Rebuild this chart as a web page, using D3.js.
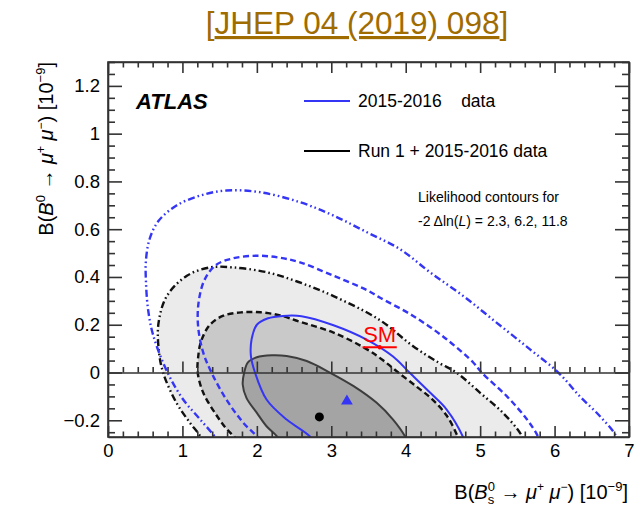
<!DOCTYPE html>
<html>
<head>
<meta charset="utf-8">
<script src="https://cdn.jsdelivr.net/npm/d3@7"></script>
<style>
  body { margin: 0; background: #fff; }
  text { font-family: "Liberation Sans", Arial, Helvetica, sans-serif; }
</style>
</head>
<body>
<svg id="chart" width="638" height="507"></svg>
<script>
// ---- data -----------------------------------------------------------
const xTicks = [0, 1, 2, 3, 4, 5, 6, 7];
const xTickLabels = ["0", "1", "2", "3", "4", "5", "6", "7"];
const yTicks = [-0.2, 0, 0.2, 0.4, 0.6, 0.8, 1.0, 1.2];
const yTickLabels = ["\u22120.2", "0", "0.2", "0.4", "0.6", "0.8", "1", "1.2"];

// Run 1 + 2015-2016 likelihood contours (Bs, Bd) in units of 1e-9
const comb_2p3 = [[2.36,-0.31],[2.27,-0.267],[2.13,-0.225],[2.0,-0.169],[1.86,-0.106],[1.81,-0.05],[1.83,0.0],[1.88,0.042],[2.0,0.064],[2.2,0.072],[2.4,0.069],[2.67,0.048],[2.98,0.0],[3.3,-0.057],[3.61,-0.127],[3.83,-0.197],[3.99,-0.267],[4.05,-0.31]];
const comb_6p2 = [[1.82,-0.32],[1.73,-0.28],[1.59,-0.235],[1.46,-0.18],[1.28,-0.085],[1.205,0.0],[1.21,0.06],[1.25,0.13],[1.37,0.20],[1.55,0.238],[1.8,0.252],[2.05,0.252],[2.3,0.240],[2.58,0.212],[3.03,0.167],[3.48,0.097],[3.7,0.05],[3.9,0.0],[4.15,-0.06],[4.35,-0.11],[4.55,-0.18],[4.7,-0.27],[4.75,-0.32]];
const comb_11p8 = [[1.32,-0.32],[1.24,-0.267],[1.10,-0.21],[0.92,-0.127],[0.74,0.0],[0.68,0.10],[0.68,0.21],[0.79,0.32],[1.06,0.405],[1.37,0.44],[1.68,0.44],[2.13,0.42],[2.55,0.38],[3.03,0.32],[3.65,0.22],[4.10,0.11],[4.45,0.04],[4.68,0.0],[5.0,-0.085],[5.31,-0.17],[5.55,-0.26],[5.62,-0.32]];

// 2015-2016 only likelihood contours
const run2_2p3 = [[2.82,-0.32],[2.71,-0.267],[2.40,-0.197],[2.13,-0.113],[1.975,0.0],[1.92,0.07],[1.93,0.14],[2.0,0.20],[2.15,0.227],[2.35,0.237],[2.6,0.236],[3.03,0.198],[3.48,0.137],[3.83,0.067],[4.05,0.0],[4.33,-0.085],[4.55,-0.155],[4.77,-0.27],[4.82,-0.32]];
const run2_6p2 = [[2.12,-0.32],[2.04,-0.28],[1.82,-0.211],[1.59,-0.113],[1.39,0.0],[1.28,0.083],[1.21,0.195],[1.22,0.30],[1.30,0.39],[1.45,0.45],[1.68,0.478],[2.0,0.489],[2.3,0.481],[2.58,0.461],[3.03,0.405],[3.48,0.345],[3.65,0.314],[4.10,0.237],[4.55,0.139],[4.91,0.041],[5.02,0.0],[5.36,-0.1],[5.63,-0.197],[5.78,-0.27],[5.83,-0.32]];
const run2_11p8 = [[1.52,-0.32],[1.46,-0.28],[1.24,-0.197],[1.01,-0.113],[0.80,0.0],[0.61,0.153],[0.54,0.26],[0.51,0.38],[0.51,0.47],[0.56,0.56],[0.68,0.635],[0.92,0.699],[1.24,0.741],[1.59,0.762],[2.04,0.755],[2.58,0.713],[3.03,0.657],[3.48,0.587],[3.92,0.517],[4.33,0.419],[4.77,0.321],[5.22,0.209],[5.67,0.097],[6.05,0.0],[6.34,-0.1],[6.61,-0.183],[6.83,-0.267],[6.88,-0.32]];

// best-fit points and Standard Model prediction
const combBest = [2.84, -0.186];
const run2Best = [3.21, -0.12];
const smValue = [3.65, 0.106];
const smErr = [0.23, 0.009];

// ---- layout ---------------------------------------------------------
const svg = d3.select("#chart");
const L = 108, R = 629, T = 62, B = 437;
const x = d3.scaleLinear([0, 7], [L, R]);
const y = d3.scaleLinear([-0.27, 1.3], [B, T]);
const blue = "#3535f5";
const axisCol = "#333";

svg.append("defs").append("clipPath").attr("id", "plotClip")
  .append("rect").attr("x", L).attr("y", T).attr("width", R - L).attr("height", B - T);

const plot = svg.append("g").attr("clip-path", "url(#plotClip)");
const line = d3.line().x(d => x(d[0])).y(d => y(d[1])).curve(d3.curveCatmullRom.alpha(0.5));

// filled regions of the combined fit
[[comb_11p8, "#ebebeb"], [comb_6p2, "#c9c9c9"], [comb_2p3, "#a4a4a4"]].forEach(([pts, col]) => {
  plot.append("path").attr("d", line(pts) + "Z").attr("fill", col).attr("stroke", "none");
});

// horizontal axis at zero
const zeroMinor = d3.range(0, 7.001, 0.2).filter(v => Math.abs(v - Math.round(v)) > 1e-6);
const zAxis = svg.append("g").attr("transform", `translate(0,${y(0)})`);
zAxis.call(d3.axisBottom(x).tickValues(xTicks).tickSize(-11).tickSizeOuter(0).tickFormat(""));
const zMinor = svg.append("g").attr("transform", `translate(0,${y(0)})`);
zMinor.call(d3.axisBottom(x).tickValues(zeroMinor).tickSize(-5.5).tickFormat(""));
zMinor.select(".domain").remove();
[zAxis, zMinor].forEach(g => {
  g.selectAll("path,line").attr("stroke", axisCol).attr("stroke-width", 1.6);
});

// contour lines
const dashed = "6,3.5";
const dashDot = "7,3,1.6,3,1.6,3";
const contourLines = [
  [comb_11p8, "#111", 2.4, dashDot],
  [comb_6p2, "#111", 2.4, dashed],
  [comb_2p3, "#3d3d3d", 2.0, null],
  [run2_11p8, blue, 2.4, dashDot],
  [run2_6p2, blue, 2.4, dashed],
  [run2_2p3, blue, 2.0, null]
];
contourLines.forEach(([pts, col, w, dash]) => {
  plot.append("path").attr("d", line(pts)).attr("fill", "none")
    .attr("stroke", col).attr("stroke-width", w)
    .attr("stroke-dasharray", dash);
});

// best-fit markers
plot.append("circle").attr("cx", x(combBest[0])).attr("cy", y(combBest[1])).attr("r", 4.5).attr("fill", "#000");
plot.append("path").attr("d", d3.symbol(d3.symbolTriangle, 60)())
  .attr("transform", `translate(${x(run2Best[0])},${y(run2Best[1])})`).attr("fill", blue);

// Standard Model prediction
const sm = svg.append("g");
sm.append("line").attr("x1", x(smValue[0] - smErr[0])).attr("x2", x(smValue[0] + smErr[0]))
  .attr("y1", y(smValue[1])).attr("y2", y(smValue[1])).attr("stroke", "#f00").attr("stroke-width", 2);
sm.append("line").attr("x1", x(smValue[0])).attr("x2", x(smValue[0]))
  .attr("y1", y(smValue[1] - smErr[1])).attr("y2", y(smValue[1] + smErr[1])).attr("stroke", "#f00").attr("stroke-width", 2);
sm.append("circle").attr("cx", x(smValue[0])).attr("cy", y(smValue[1])).attr("r", 2).attr("fill", "#f00");
sm.append("text").attr("x", x(smValue[0])).attr("y", y(smValue[1]) - 5).attr("text-anchor", "middle")
  .attr("font-size", 22).attr("fill", "#f00").text("SM");

// ---- frame and axes ---------------------------------------------------
const xMinor = d3.range(0, 7.001, 0.2).filter(v => Math.abs(v - Math.round(v)) > 1e-6);
const yMinor = d3.range(-0.25, 1.301, 0.05).filter(v => Math.abs(v * 5 - Math.round(v * 5)) > 1e-6);

function styleAxis(g) {
  g.selectAll("path,line").attr("stroke", axisCol).attr("stroke-width", 1.6);
  g.selectAll("text").attr("font-size", 18.5).attr("fill", "#000")
    .style("font-family", '"Liberation Sans", Arial, sans-serif');
}

const gx = svg.append("g").attr("transform", `translate(0,${B})`)
  .call(d3.axisBottom(x).tickValues(xTicks).tickSize(-11).tickSizeOuter(0).tickPadding(7)
    .tickFormat((d, i) => xTickLabels[i]));
styleAxis(gx);
const gxm = svg.append("g").attr("transform", `translate(0,${B})`)
  .call(d3.axisBottom(x).tickValues(xMinor).tickSize(-5.5).tickFormat(""));
gxm.select(".domain").remove(); styleAxis(gxm);

const gt = svg.append("g").attr("transform", `translate(0,${T})`)
  .call(d3.axisTop(x).tickValues(xTicks).tickSize(-11).tickSizeOuter(0).tickFormat(""));
styleAxis(gt);
const gtm = svg.append("g").attr("transform", `translate(0,${T})`)
  .call(d3.axisTop(x).tickValues(xMinor).tickSize(-5.5).tickFormat(""));
gtm.select(".domain").remove(); styleAxis(gtm);

const gy = svg.append("g").attr("transform", `translate(${L},0)`)
  .call(d3.axisLeft(y).tickValues(yTicks).tickSize(-14).tickSizeOuter(0).tickPadding(8)
    .tickFormat((d, i) => yTickLabels[i]));
styleAxis(gy);
const gym = svg.append("g").attr("transform", `translate(${L},0)`)
  .call(d3.axisLeft(y).tickValues(yMinor).tickSize(-7).tickFormat(""));
gym.select(".domain").remove(); styleAxis(gym);

const gr = svg.append("g").attr("transform", `translate(${R},0)`)
  .call(d3.axisRight(y).tickValues(yTicks).tickSize(-14).tickSizeOuter(0).tickFormat(""));
styleAxis(gr);
const grm = svg.append("g").attr("transform", `translate(${R},0)`)
  .call(d3.axisRight(y).tickValues(yMinor).tickSize(-7).tickFormat(""));
grm.select(".domain").remove(); styleAxis(grm);

svg.append("rect").attr("x", L).attr("y", T).attr("width", R - L).attr("height", B - T)
  .attr("fill", "none").attr("stroke", axisCol).attr("stroke-width", 1.6);

// ---- axis titles ------------------------------------------------------
function rich(textSel, parts) {
  parts.forEach(p => {
    const ts = textSel.append("tspan").text(p.t);
    if (p.it) ts.attr("font-style", "italic");
    if (p.fs) ts.attr("font-size", p.fs);
    if (p.dy) ts.attr("dy", p.dy);
    if (p.dx) ts.attr("dx", p.dx);
  });
}

const yTitle = svg.append("text").attr("transform", `translate(53,${T}) rotate(-90)`)
  .attr("text-anchor", "end").attr("font-size", 20).attr("fill", "#000");
rich(yTitle, [
  { t: "B(" }, { t: "B", it: true }, { t: "0", fs: 13, dy: -8 },
  { t: " \u2192 ", dy: 8 }, { t: "\u03bc", it: true }, { t: "+", fs: 12, dy: -8 },
  { t: " ", dy: 8 }, { t: "\u03bc", it: true }, { t: "\u2212", fs: 12, dy: -8 },
  { t: ") [10", dy: 8 }, { t: "\u22129", fs: 13, dy: -8 }, { t: "]", dy: 8 }
]);

// x title: the Bs subscript sits under the superscript as a separate label
const xTitle = svg.append("text").attr("x", 628).attr("y", 499)
  .attr("text-anchor", "end").attr("font-size", 20).attr("fill", "#000");
rich(xTitle, [
  { t: "B(" }, { t: "B", it: true }, { t: "0", fs: 13, dy: -8 },
  { t: " \u2192 ", dy: 8 }, { t: "\u03bc", it: true }, { t: "+", fs: 12, dy: -8 },
  { t: " ", dy: 8 }, { t: "\u03bc", it: true }, { t: "\u2212", fs: 12, dy: -8 },
  { t: ") [10", dy: 8 }, { t: "\u22129", fs: 13, dy: -8 }, { t: "]", dy: 8 }
]);
const zeroSpan = xTitle.selectAll("tspan").filter((d, i) => i === 2).node();
const zb = zeroSpan.getBBox();
svg.append("text").attr("x", zb.x).attr("y", 504).attr("font-size", 13).text("s");

// ---- labels and legend ------------------------------------------------
svg.append("text").attr("x", 136).attr("y", 109).attr("font-size", 22)
  .attr("font-weight", "bold").attr("font-style", "italic").text("ATLAS");

const legend = [
  { label: "2015-2016\u00a0\u00a0\u00a0\u00a0data", col: blue, yy: 101 },
  { label: "Run 1 + 2015-2016 data", col: "#000", yy: 151 }
];
legend.forEach(d => {
  svg.append("line").attr("x1", 304).attr("x2", 350).attr("y1", d.yy).attr("y2", d.yy)
    .attr("stroke", d.col).attr("stroke-width", 2);
  svg.append("text").attr("x", 358).attr("y", d.yy + 6).attr("font-size", 17.5).text(d.label);
});

svg.append("text").attr("x", 418).attr("y", 202).attr("font-size", 14).text("Likelihood contours for");
const lk = svg.append("text").attr("x", 418).attr("y", 226).attr("font-size", 14);
rich(lk, [{ t: "-2 \u0394ln(" }, { t: "L", it: true }, { t: ") = 2.3, 6.2, 11.8" }]);

// ---- title -----------------------------------------------------------
const title = svg.append("text").attr("x", 357).attr("y", 34).attr("text-anchor", "middle")
  .attr("font-size", 31.5).attr("fill", "#a06c00");
title.append("tspan").text("[");
title.append("tspan").attr("text-decoration", "underline").text("JHEP 04 (2019) 098");
title.append("tspan").text("]");
</script>
</body>
</html>
